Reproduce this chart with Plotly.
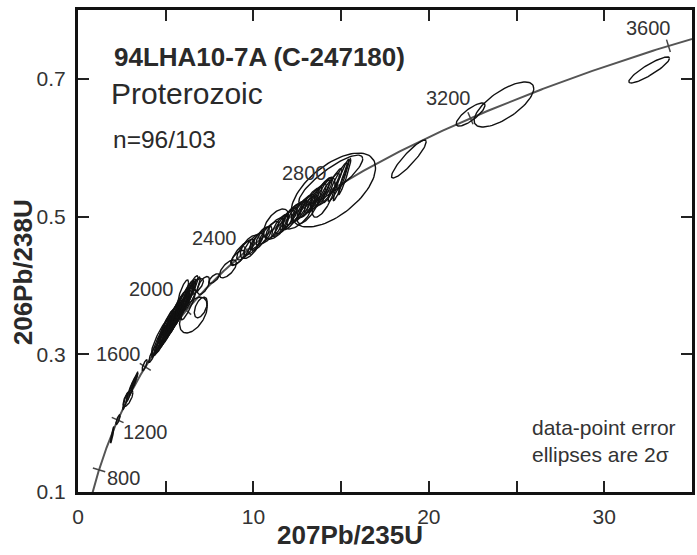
import numpy as np
import plotly.graph_objects as go

# ---------------- data ----------------
# decay constants (per year) used for the concordia curve
LAMBDA_238 = 1.55125e-10
LAMBDA_235 = 9.8485e-10

# concordia age marks (Ma)
age_marks = [800, 1200, 1600, 2000, 2400, 2800, 3200, 3600]
age_labels = ["800", "1200", "1600", "2000", "2400", "2800", "3200", "3600"]

# error ellipses: centre (207Pb/235U, 206Pb/238U), 2-sigma half widths, error correlation
ell_x = [1.95, 2.28, 2.70, 2.85, 2.95, 3.08, 3.20, 3.30, 3.80, 4.25,
         4.60, 4.75, 4.90, 5.00, 5.10, 5.20, 5.30, 5.35, 5.45, 5.55,
         5.60, 5.70, 5.80, 5.90, 5.95, 6.05, 6.15, 6.25, 6.30, 5.55,
         5.35, 5.00, 6.30, 6.50,
         4.70, 4.95, 5.15, 5.40, 5.65, 5.85, 6.10, 6.40,
         6.58, 7.00, 6.70, 7.15, 6.00,
         7.75, 8.55, 9.10,
         9.30, 9.55, 9.80, 10.0, 10.2, 10.4, 10.6, 10.9, 11.2, 11.29, 11.5,
         11.8, 12.0, 12.2, 12.4, 12.6, 12.8, 13.0, 13.2, 13.4, 13.6,
         13.8, 14.0, 14.3, 14.5, 14.8, 15.0, 15.2, 12.5, 14.0, 13.1,
         14.55, 14.41,
         18.86, 22.38, 24.28, 32.56]
ell_y = [0.183, 0.205, 0.232, 0.236, 0.245, 0.253, 0.259, 0.266, 0.284, 0.300,
         0.318, 0.322, 0.327, 0.331, 0.335, 0.338, 0.342, 0.345, 0.348, 0.352,
         0.355, 0.358, 0.362, 0.366, 0.370, 0.373, 0.377, 0.381, 0.385, 0.360,
         0.350, 0.340, 0.372, 0.388,
         0.325, 0.333, 0.343, 0.353, 0.363, 0.371, 0.380, 0.392,
         0.357, 0.368, 0.398, 0.400, 0.390,
         0.410, 0.424, 0.440,
         0.447, 0.452, 0.456, 0.460, 0.465, 0.468, 0.472, 0.477, 0.483, 0.489, 0.487,
         0.492, 0.497, 0.500, 0.505, 0.508, 0.512, 0.515, 0.520, 0.524, 0.527,
         0.532, 0.535, 0.540, 0.545, 0.550, 0.553, 0.558, 0.502, 0.528, 0.510,
         0.5386, 0.553,
         0.5836, 0.6482, 0.6628, 0.7129]
ell_sx = [0.10, 0.12, 0.15, 0.28, 0.20, 0.18, 0.15, 0.12, 0.15, 0.22,
          0.40, 0.44, 0.47, 0.42, 0.50, 0.44, 0.47, 0.42, 0.52, 0.47,
          0.42, 0.50, 0.44, 0.47, 0.42, 0.50, 0.44, 0.47, 0.42, 0.52,
          0.47, 0.44, 0.42, 0.47,
          0.52, 0.47, 0.54, 0.50, 0.52, 0.48, 0.52, 0.44,
          0.79, 0.37, 0.45, 0.35, 0.30,
          0.30, 0.48, 0.40,
          0.55, 0.50, 0.55, 0.55, 0.40, 0.50, 0.45, 0.55, 0.50, 0.72, 0.45,
          0.55, 0.50, 0.55, 0.50, 0.45, 0.55, 0.50, 0.55, 0.50, 0.55,
          0.55, 0.50, 0.60, 0.55, 0.55, 0.45, 0.35, 0.80, 0.65, 0.60,
          2.41, 1.82,
          0.99, 0.82, 1.70, 1.16]
ell_sy = [0.012, 0.007, 0.012, 0.012, 0.014, 0.013, 0.010, 0.008, 0.008, 0.012,
          0.022, 0.024, 0.025, 0.023, 0.026, 0.024, 0.025, 0.023, 0.027, 0.025,
          0.024, 0.026, 0.024, 0.025, 0.023, 0.026, 0.024, 0.025, 0.024, 0.027,
          0.025, 0.024, 0.022, 0.024,
          0.026, 0.025, 0.027, 0.026, 0.028, 0.025, 0.027, 0.022,
          0.026, 0.015, 0.012, 0.013, 0.018,
          0.007, 0.013, 0.011,
          0.017, 0.015, 0.017, 0.016, 0.013, 0.017, 0.014, 0.016, 0.015, 0.022, 0.016,
          0.017, 0.016, 0.019, 0.017, 0.016, 0.019, 0.017, 0.021, 0.019, 0.021,
          0.021, 0.021, 0.023, 0.025, 0.028, 0.030, 0.026, 0.020, 0.029, 0.020,
          0.0537, 0.0363,
          0.0276, 0.0167, 0.0327, 0.0189]
ell_rho = [0.92, 0.80, 0.90, 0.70, 0.92, 0.92, 0.90, 0.90, 0.80, 0.88,
           0.93, 0.94, 0.93, 0.92, 0.94, 0.93, 0.94, 0.92, 0.94, 0.93,
           0.92, 0.94, 0.93, 0.94, 0.92, 0.94, 0.93, 0.94, 0.92, 0.94,
           0.93, 0.93, 0.90, 0.92,
           0.90, 0.91, 0.90, 0.92, 0.90, 0.91, 0.90, 0.88,
           0.50, 0.50, 0.70, 0.60, 0.80,
           0.70, 0.65, 0.70,
           0.80, 0.75, 0.60, 0.78, 0.82, 0.80, 0.75, 0.80, 0.75, 0.55, 0.80,
           0.80, 0.82, 0.80, 0.85, 0.80, 0.85, 0.80, 0.86, 0.85, 0.86,
           0.86, 0.88, 0.90, 0.92, 0.92, 0.95, 0.95, 0.60, 0.70, 0.75,
           0.60, 0.85,
           0.91, 0.80, 0.71, 0.89]

x_ticks = [0, 5, 10, 15, 20, 25, 30]
x_tick_text = ["0", "", "10", "", "20", "", "30"]
y_ticks = [0.1, 0.3, 0.5, 0.7]
y_tick_text = ["0.1", "0.3", "0.5", "0.7"]

X_RANGE = [0, 35]
Y_RANGE = [0.1, 0.8]

# ---------------- layout geometry ----------------
W, H = 697, 555
ML, MR, MT, MB = 78, 2, 10, 63
PW, PH = W - ML - MR, H - MT - MB
KX = PW / (X_RANGE[1] - X_RANGE[0])
KY = PH / (Y_RANGE[1] - Y_RANGE[0])

FONT = "Liberation Sans, Arial, Helvetica, sans-serif"
TXT = "#2a2a2a"

fig = go.Figure()

# concordia
t = np.linspace(550e6, 4000e6, 600)
cx = np.exp(LAMBDA_235 * t) - 1
cy = np.exp(LAMBDA_238 * t) - 1
fig.add_trace(go.Scatter(x=cx, y=cy, mode="lines",
                         line=dict(color="#555555", width=2),
                         hoverinfo="skip", showlegend=False))

# age tick marks on the concordia
tx, ty = [], []
half = 6.5
for a in age_marks:
    ta = a * 1e6
    x0 = np.exp(LAMBDA_235 * ta) - 1
    y0 = np.exp(LAMBDA_238 * ta) - 1
    vx = LAMBDA_235 * np.exp(LAMBDA_235 * ta) * KX
    vy = LAMBDA_238 * np.exp(LAMBDA_238 * ta) * KY
    n = np.hypot(vx, vy)
    px, py = -vy / n, vx / n
    tx += [x0 - px * half / KX, x0 + px * half / KX, None]
    ty += [y0 - py * half / KY, y0 + py * half / KY, None]
fig.add_trace(go.Scatter(x=tx, y=ty, mode="lines",
                         line=dict(color="#444444", width=1.5),
                         hoverinfo="skip", showlegend=False))

# error ellipses
theta = np.linspace(0, 2 * np.pi, 90)
ex, ey = [], []
for x0, y0, sx, sy, r in zip(ell_x, ell_y, ell_sx, ell_sy, ell_rho):
    ex += list(x0 + sx * np.cos(theta)) + [None]
    ey += list(y0 + sy * (r * np.cos(theta) + np.sqrt(1 - r * r) * np.sin(theta))) + [None]
fig.add_trace(go.Scatter(x=ex, y=ey, mode="lines",
                         line=dict(color="#111111", width=1.4),
                         hoverinfo="skip", showlegend=False))

# age labels
label_shift = {800: (24, -8), 1200: (28, -12), 1600: (-27, 13), 2000: (-35, 21),
               2400: (-32, 12), 2800: (-32, 13), 3200: (-22, 20), 3600: (-20, 18)}
annotations = []
for a, lab in zip(age_marks, age_labels):
    ta = a * 1e6
    sx_, sy_ = label_shift[a]
    annotations.append(dict(x=np.exp(LAMBDA_235 * ta) - 1, y=np.exp(LAMBDA_238 * ta) - 1,
                            xref="x", yref="y", text=lab, showarrow=False,
                            xshift=sx_, yshift=sy_,
                            font=dict(family=FONT, size=20, color="#333333")))


def px2paper(px, py):
    return (px - ML) / PW, (H - MB - py) / PH


# text block
for txt, (px, py), size in [("<b>94LHA10-7A (C-247180)</b>", (112, 57), 26),
                            ("Proterozoic", (109, 93), 30),
                            ("n=96/103", (111, 139), 24.5)]:
    xp, yp = px2paper(px, py)
    annotations.append(dict(x=xp, y=yp, xref="paper", yref="paper", text=txt,
                            showarrow=False, xanchor="left", yanchor="middle",
                            font=dict(family=FONT, size=size, color=TXT)))

xp, yp = px2paper(532, 441)
annotations.append(dict(x=xp, y=yp, xref="paper", yref="paper",
                        text="data-point error<br>ellipses are 2σ",
                        showarrow=False, xanchor="left", yanchor="middle", align="left",
                        font=dict(family=FONT, size=21, color="#333333")))

# axis titles
xp, yp = px2paper(351, 535)
annotations.append(dict(x=xp, y=yp, xref="paper", yref="paper", text="<b>207Pb/235U</b>",
                        showarrow=False, xanchor="center", yanchor="middle",
                        font=dict(family=FONT, size=26, color=TXT)))
xp, yp = px2paper(23, 272)
annotations.append(dict(x=xp, y=yp, xref="paper", yref="paper", text="<b>206Pb/238U</b>",
                        showarrow=False, xanchor="center", yanchor="middle", textangle=-90,
                        font=dict(family=FONT, size=26, color=TXT)))

axis_common = dict(showgrid=False, zeroline=False, showline=True, linecolor="#111111",
                   linewidth=3, mirror="ticks", ticks="inside", ticklen=11, tickwidth=1.5,
                   tickcolor="#222222",
                   tickfont=dict(family=FONT, size=21, color="#333333"))

fig.update_layout(
    width=W, height=H,
    margin=dict(l=ML, r=MR, t=MT, b=MB),
    paper_bgcolor="white", plot_bgcolor="white",
    xaxis=dict(range=X_RANGE, tickvals=x_ticks, ticktext=x_tick_text,
               ticklabelstandoff=4, **axis_common),
    yaxis=dict(range=Y_RANGE, tickvals=y_ticks, ticktext=y_tick_text,
               ticklabelstandoff=5, **axis_common),
    annotations=annotations,
    showlegend=False,
)

fig.write_html("out.html", config={"displayModeBar": False},
               post_script="document.body.style.margin='0';")
